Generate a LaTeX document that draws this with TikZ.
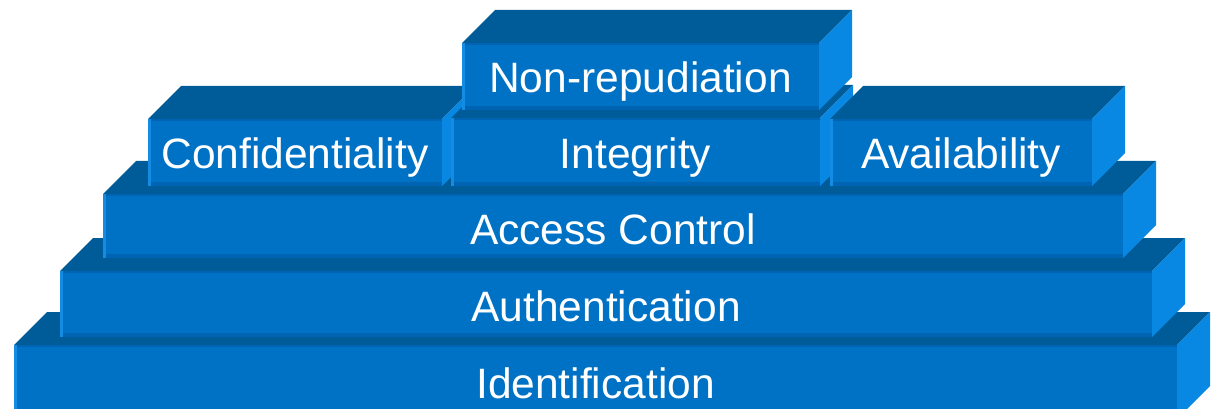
\documentclass[tikz,border=0pt]{standalone}
\usepackage{fontspec}
\setmainfont{Liberation Sans}
\definecolor{blkfront}{RGB}{0,114,198}
\definecolor{blktop}{RGB}{0,91,153}
\definecolor{blkside}{RGB}{8,136,226}
\definecolor{blkrim}{RGB}{0,100,178}
\definecolor{blkshine}{RGB}{20,140,228}
\begin{document}
\begin{tikzpicture}[x=1pt, y=-1pt,
    topface/.style={fill=blktop},
    sideface/.style={fill=blkside},
    frontface/.style={fill=blkfront, path picture={
        \fill[blkrim] (path picture bounding box.south west) rectangle ([yshift=4pt]path picture bounding box.south east);
        \fill[blkrim] (path picture bounding box.north west) rectangle ([yshift=-2pt]path picture bounding box.north east);
        \fill[blkshine] (path picture bounding box.south west) rectangle ([xshift=3pt]path picture bounding box.north west);
    }},
    lbl/.style={text=white, anchor=base, inner sep=0pt, font=\fontsize{42.5}{50}\selectfont}]
            \clip (0,0) rectangle (1216,409);
            \fill[white] (0,0) rectangle (1216,409);

            % Identification
            \fill[topface] (14,345) -- (47,312) -- (1210,312) -- (1177,345) -- cycle;
            \fill[sideface] (1177,345) -- (1210,312) -- (1210,386) -- (1177,419) -- cycle;
            \fill[frontface] (14,345) rectangle (1177,419);
            \node[lbl] (ident) at (595.5,398) {Identification};

            % Authentication
            \fill[topface] (60,271) -- (93,238) -- (1185,238) -- (1152,271) -- cycle;
            \fill[sideface] (1152,271) -- (1185,238) -- (1185,304) -- (1152,337) -- cycle;
            \fill[frontface] (60,271) rectangle (1152,337);
            \node[lbl] (authn) at (606,321) {Authentication};

            % Access Control
            \fill[topface] (103,194) -- (136,161) -- (1156,161) -- (1123,194) -- cycle;
            \fill[sideface] (1123,194) -- (1156,161) -- (1156,225) -- (1123,258) -- cycle;
            \fill[frontface] (103,194) rectangle (1123,258);
            \node[lbl] (access) at (613,244) {Access Control};

            % Confidentiality
            \fill[topface] (148,119) -- (181,86) -- (475,86) -- (442,119) -- cycle;
            \fill[sideface] (442,119) -- (475,86) -- (475,153) -- (442,186) -- cycle;
            \fill[frontface] (148,119) rectangle (442,186);
            \node[lbl] (conf) at (295,169) {Confidentiality};

            % Integrity
            \fill[topface] (451,118) -- (484,85) -- (853,85) -- (820,118) -- cycle;
            \fill[sideface] (820,118) -- (853,85) -- (853,153) -- (820,186) -- cycle;
            \fill[frontface] (451,118) rectangle (820,186);
            \node[lbl] (integ) at (635.5,169) {Integrity};

            % Availability
            \fill[topface] (830,119) -- (863,86) -- (1125,86) -- (1092,119) -- cycle;
            \fill[sideface] (1092,119) -- (1125,86) -- (1125,153) -- (1092,186) -- cycle;
            \fill[frontface] (830,119) rectangle (1092,186);
            \node[lbl] (avail) at (961,169) {Availability};

            % Non-repudiation
            \fill[topface] (462,43) -- (495,10) -- (852,10) -- (819,43) -- cycle;
            \fill[sideface] (819,43) -- (852,10) -- (852,77) -- (819,110) -- cycle;
            \fill[frontface] (462,43) rectangle (819,110);
            \node[lbl] (nonrep) at (640.5,93) {Non-repudiation};
        \end{tikzpicture}
\end{document}
